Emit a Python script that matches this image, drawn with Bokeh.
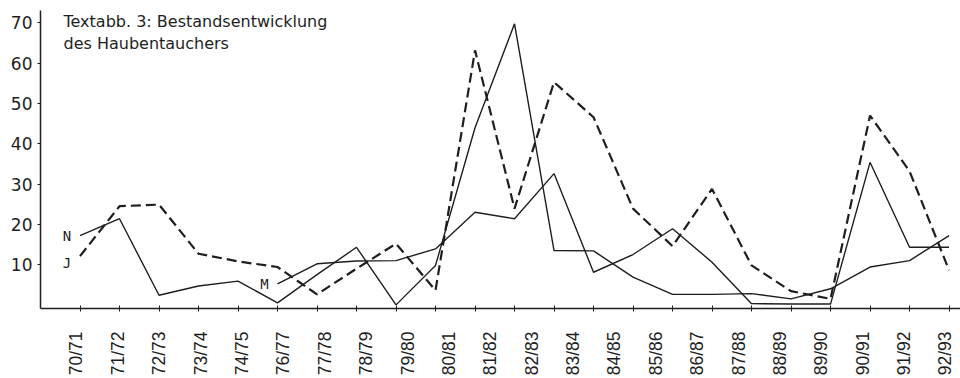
from bokeh.plotting import figure
from bokeh.models import Range1d, FixedTicker, Label
from bokeh.core.properties import value
from bokeh.embed import file_html
from bokeh.resources import INLINE
import math

# ---- data ----
seasons = ["70/71", "71/72", "72/73", "73/74", "74/75", "75/76", "76/77", "77/78",
           "78/79", "79/80", "80/81", "81/82", "82/83", "83/84", "84/85", "85/86",
           "86/87", "87/88", "88/89", "89/90", "90/91", "91/92", "92/93"]
# the printed axis omits 75/76
tick_labels = ["70/71", "71/72", "72/73", "73/74", "74/75", "76/77", "77/78", "78/79",
               "79/80", "80/81", "81/82", "82/83", "83/84", "84/85", "85/86", "86/87",
               "87/88", "88/89", "89/90", "90/91", "91/92", "92/93"]
N = [17.2, 21.4, 2.4, 4.7, 5.9, 0.5, 7.5, 14.3, 0.0, 9.8, 44.0, 69.8, 13.5, 13.4,
     6.9, 2.6, 2.6, 2.8, 1.5, 4.0, 9.4, 11.0, 17.2]
J = [12.1, 24.5, 24.9, 12.7, 10.8, 9.4, 2.6, 9.0, 15.2, 3.6, 63.2, 23.9, 55.3, 46.6,
     23.9, 14.6, 28.8, 9.8, 3.4, 1.5, 47.0, 33.2, 8.6]
M = [None, None, None, None, None, 5.2, 10.2, 10.9, 11.0, 13.9, 23.0, 21.4, 32.6, 8.1,
     12.5, 18.9, 10.6, 0.3, 0.2, 0.2, 35.4, 14.3, 14.3]
y_ticks = [10, 20, 30, 40, 50, 60, 70]

INK = "#1e1e1e"

x_start, x_end = -1.0, 22.29
n = len(seasons) - 1
m = len(tick_labels) - 1
shift = -0.09  # printed labels sit slightly left of an even spread

# printed labels are spread evenly over the span of the seasons
label_pos = [round(j * n / m + shift, 6) for j in range(len(tick_labels))]

p = figure(width=960, height=378, output_backend="svg", toolbar_location=None,
           x_range=Range1d(x_start, x_end), y_range=Range1d(-0.9, 73.1),
           min_border_left=40, min_border_right=0, min_border_top=10,
           min_border_bottom=70)
p.outline_line_color = None
p.grid.grid_line_color = None
p.background_fill_color = "white"
p.border_fill_color = "white"


def pts(vals):
    xs = [i for i, v in enumerate(vals) if v is not None]
    ys = [v for v in vals if v is not None]
    return xs, ys


xs, ys = pts(N)
p.line(xs, ys, line_color=INK, line_width=1.4, legend_label="N") if False else p.line(xs, ys, line_color=INK, line_width=1.4)
xs, ys = pts(M)
p.line(xs, ys, line_color=INK, line_width=1.4)
xs, ys = pts(J)
p.line(xs, ys, line_color=INK, line_width=2.2, line_dash="10 5")

# series letters just left of each series' first point
for name, vals, dy in (("N", N, 0), ("J", J, 7), ("M", M, 0)):
    xs, ys = pts(vals)
    p.text(x=[xs[0]], y=[ys[0]], text=[name], x_offset=-13, y_offset=dy,
           text_align="center", text_baseline="middle",
           text_font=value("DejaVu Sans Mono"), text_font_size="14px",
           text_color=INK)

# y axis
p.yaxis.ticker = FixedTicker(ticks=y_ticks)
p.yaxis.axis_line_color = INK
p.yaxis.axis_line_width = 1.5
p.yaxis.major_tick_line_color = INK
p.yaxis.major_tick_in = 0
p.yaxis.major_tick_out = 3
p.yaxis.minor_tick_line_color = None
p.yaxis.major_label_standoff = 5
p.yaxis.major_label_text_font = "DejaVu Sans"
p.yaxis.major_label_text_font_size = "17px"
p.yaxis.major_label_text_color = INK

# x axis: printed labels (major) + tick marks (minor) at every season
p.xaxis.ticker = FixedTicker(ticks=label_pos, minor_ticks=list(range(len(seasons))))
p.xaxis.major_label_overrides = {pos: t for pos, t in zip(label_pos, tick_labels)}
p.xaxis.axis_line_color = INK
p.xaxis.axis_line_width = 1.5
p.xaxis.major_tick_line_color = None
p.xaxis.major_tick_in = 0
p.xaxis.major_tick_out = 0
p.xaxis.minor_tick_line_color = INK
p.xaxis.minor_tick_line_width = 1
p.xaxis.minor_tick_in = 3
p.xaxis.minor_tick_out = 3
p.xaxis.major_label_standoff = 20
p.xaxis.major_label_orientation = math.pi / 2
p.xaxis.major_label_text_font = "Liberation Sans"
p.xaxis.major_label_text_font_size = "17.5px"
p.xaxis.major_label_text_color = INK

# title inside the plot area
for txt, yy in (("Textabb. 3: Bestandsentwicklung", 287), ("des Haubentauchers", 265)):
    p.add_layout(Label(x=23, y=yy, x_units="screen", y_units="screen", text=txt,
                       text_font="DejaVu Sans", text_font_size="16px",
                       text_color=INK, text_baseline="alphabetic"))

open("out.html", "w").write(file_html(p, INLINE))
